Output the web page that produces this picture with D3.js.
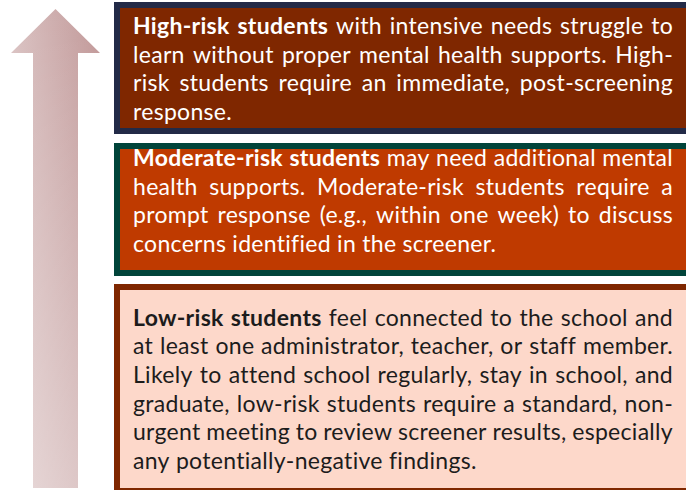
<!DOCTYPE html>
<html>
<head>
<meta charset="utf-8">
<script src="https://cdn.jsdelivr.net/npm/d3@7"></script>
<style>
  body { margin: 0; background: #fff; }
  svg { display: block; }
</style>
</head>
<body>
<div id="chart"></div>
<script>
// tiers, top to bottom
var tierNames = ["High-risk students", "Moderate-risk students", "Low-risk students"]

var highLines = [
  "High-risk students with intensive needs struggle to",
  "learn without proper mental health supports. High-",
  "risk students require an immediate, post-screening",
  "response."
]
var moderateLines = [
  "Moderate-risk students may need additional mental",
  "health supports. Moderate-risk students require a",
  "prompt response (e.g., within one week) to discuss",
  "concerns identified in the screener."
]
var lowLines = [
  "Low-risk students feel connected to the school and",
  "at least one administrator, teacher, or staff member.",
  "Likely to attend school regularly, stay in school, and",
  "graduate, low-risk students require a standard, non-",
  "urgent meeting to review screener results, especially",
  "any potentially-negative findings."
]

var fills = ["#7f2700", "#bf3a00", "#fdd8ca"]
var borders = ["#222a47", "#00443a", "#7f2700"]
var textColors = ["#ffffff", "#ffffff", "#1c1c1c"]

var width = 686, height = 490

var svg = d3.select("#chart").append("svg")
    .attr("width", width)
    .attr("height", height)

// ---------- arrow ----------
var defs = svg.append("defs")
var grad = defs.append("linearGradient").attr("id", "arrowGrad")
    .attr("x1", "0%").attr("x2", "100%").attr("y1", "0%").attr("y2", "0%")
grad.append("stop").attr("offset", "0%").attr("stop-color", "#dac2c2")
grad.append("stop").attr("offset", "100%").attr("stop-color", "#c19898")

var fade = defs.append("linearGradient").attr("id", "arrowFade")
    .attr("x1", "0%").attr("x2", "0%").attr("y1", "0%").attr("y2", "100%")
fade.append("stop").attr("offset", "0%").attr("stop-color", "#fff").attr("stop-opacity", 0)
fade.append("stop").attr("offset", "100%").attr("stop-color", "#fff").attr("stop-opacity", 0.4)

var arrow = {tipX: 55.5, tipY: 9, headY: 53, headL: 11, headR: 100, shaftL: 33, shaftR: 78, bottom: 488}
var arrowPts = [
  [arrow.tipX, arrow.tipY], [arrow.headR, arrow.headY], [arrow.shaftR, arrow.headY],
  [arrow.shaftR, arrow.bottom], [arrow.shaftL, arrow.bottom], [arrow.shaftL, arrow.headY],
  [arrow.headL, arrow.headY]
]
var arrowPath = d3.line()(arrowPts) + "Z"
svg.append("path").attr("d", arrowPath).attr("fill", "url(#arrowGrad)")
svg.append("path").attr("d", arrowPath).attr("fill", "url(#arrowFade)")

// ---------- boxes ----------
// outer edges of each box (border included)
var boxTops = [2, 143, 284]
var boxBottoms = [134, 276, 494]
var firstBaseline = [34, 166, 325.5]
var lineGap = 28.7
var bw = 6
var boxLeft = 114, boxRight = 694
var textLeft = 133, textRight = 673

var allLines = [highLines, moderateLines, lowLines]

allLines.forEach(function (lines, i) {
  svg.append("rect")
    .attr("x", boxLeft + bw / 2)
    .attr("y", boxTops[i] + bw / 2)
    .attr("width", boxRight - boxLeft - bw)
    .attr("height", boxBottoms[i] - boxTops[i] - bw)
    .attr("fill", fills[i])
    .attr("stroke", borders[i])
    .attr("stroke-width", bw)

  var g = svg.append("g")
    .style("font-family", "Lato, 'Open Sans', sans-serif")
    .style("font-size", "23px")
    .style("letter-spacing", "0.3px")
    .attr("fill", textColors[i])

  var boldCount = tierNames[i].split(" ").length

  // measure a space
  var probe = g.append("text").text("a a")
  var probe2 = g.append("text").text("aa")
  var spaceW = probe.node().getComputedTextLength() - probe2.node().getComputedTextLength()
  probe.remove(); probe2.remove()

  lines.forEach(function (line, li) {
    var words = line.split(" ")
    var y = firstBaseline[i] + li * lineGap
    var nodes = words.map(function (w, wi) {
      var bold = li === 0 && wi < boldCount
      return g.append("text")
        .attr("y", y)
        .style("font-weight", bold ? "bold" : "normal")
        .text(w)
    })
    var widths = nodes.map(function (n) { return n.node().getComputedTextLength() })
    var total = d3.sum(widths)
    var last = li === lines.length - 1
    var gap = (last || words.length < 2) ? spaceW : (textRight - textLeft - total) / (words.length - 1)
    var x = textLeft
    nodes.forEach(function (n, k) {
      n.attr("x", x)
      x += widths[k] + gap
    })
  })
})
</script>
</body>
</html>
